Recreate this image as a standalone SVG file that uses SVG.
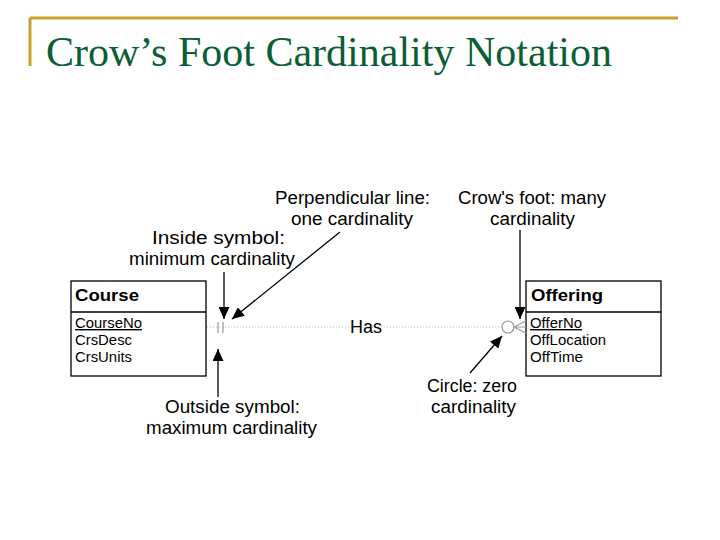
<svg xmlns="http://www.w3.org/2000/svg" width="720" height="540" viewBox="0 0 720 540">
<style>
.title{font-family:"Liberation Serif","Times New Roman",serif;font-size:42px;fill:#0B5E34}
.ann{font-family:"Liberation Sans",Arial,sans-serif;font-size:17.5px;fill:#000}
.ent{font-family:"Liberation Sans",Arial,sans-serif;font-size:16px;font-weight:bold;fill:#000}
.att{font-family:"Liberation Sans",Arial,sans-serif;font-size:14px;fill:#000}
.box{fill:#fff;stroke:#000;stroke-width:1.3}
.arrow{stroke:#000;stroke-width:1.3;fill:none;marker-end:url(#ah)}
.sym{stroke:#999;stroke-width:1.2;fill:none}
</style>
<defs>
<marker id="ah" markerUnits="userSpaceOnUse" markerWidth="13" markerHeight="11" refX="12" refY="5.5" orient="auto">
<path d="M0,0 L12,5.5 L0,11 z" fill="#000"/>
</marker>
</defs>
<rect width="720" height="540" fill="#fff"/>
<g id="frame">
<path d="M30,18 H678 M30,18 V66" stroke="#C8A030" stroke-width="3" fill="none"/>
<text class="title" x="46" y="66" textLength="566" lengthAdjust="spacingAndGlyphs">Crow’s Foot Cardinality Notation</text>
</g>
<g id="course">
<rect class="box" x="71" y="281" width="135" height="95"/>
<line x1="71" y1="312" x2="206" y2="312" stroke="#000" stroke-width="1.3"/>
<text class="ent" x="75" y="301" textLength="64" lengthAdjust="spacingAndGlyphs">Course</text>
<text class="att" x="75" y="328" textLength="67" lengthAdjust="spacingAndGlyphs" text-decoration="underline">CourseNo</text>
<text class="att" x="75" y="345" textLength="57" lengthAdjust="spacingAndGlyphs">CrsDesc</text>
<text class="att" x="75" y="362" textLength="57" lengthAdjust="spacingAndGlyphs">CrsUnits</text>
</g>
<g id="offering">
<rect class="box" x="526" y="281" width="135" height="95"/>
<line x1="526" y1="312" x2="661" y2="312" stroke="#000" stroke-width="1.3"/>
<text class="ent" x="531" y="301" textLength="72" lengthAdjust="spacingAndGlyphs">Offering</text>
<text class="att" x="530" y="328" textLength="52" lengthAdjust="spacingAndGlyphs" text-decoration="underline">OfferNo</text>
<text class="att" x="530" y="345" textLength="76" lengthAdjust="spacingAndGlyphs">OffLocation</text>
<text class="att" x="530" y="362" textLength="53" lengthAdjust="spacingAndGlyphs">OffTime</text>
</g>
<g id="relationship">
<line x1="207" y1="327" x2="502" y2="327" stroke="#bbb" stroke-width="1" stroke-dasharray="1,2"/>
<line class="sym" x1="218" y1="322" x2="218" y2="333"/>
<line class="sym" x1="223" y1="322" x2="223" y2="333"/>
<circle cx="508" cy="327" r="6" fill="#fff" stroke="#999" stroke-width="1.2"/>
<path class="sym" d="M514,327 L526,321 M514,327 L526,327 M514,327 L526,333"/>
<text class="ann" x="350" y="333" textLength="32" lengthAdjust="spacingAndGlyphs">Has</text>
</g>
<g id="annotations">
<text class="ann" x="275" y="204" textLength="155" lengthAdjust="spacingAndGlyphs">Perpendicular line:</text>
<text class="ann" x="291" y="225" textLength="122" lengthAdjust="spacingAndGlyphs">one cardinality</text>
<text class="ann" x="458" y="204" textLength="148" lengthAdjust="spacingAndGlyphs">Crow's foot: many</text>
<text class="ann" x="490" y="225" textLength="85" lengthAdjust="spacingAndGlyphs">cardinality</text>
<text class="ann" x="152" y="244" textLength="133" lengthAdjust="spacingAndGlyphs">Inside symbol:</text>
<text class="ann" x="129" y="265" textLength="166" lengthAdjust="spacingAndGlyphs">minimum cardinality</text>
<text class="ann" x="165" y="413" textLength="135" lengthAdjust="spacingAndGlyphs">Outside symbol:</text>
<text class="ann" x="146" y="434" textLength="171" lengthAdjust="spacingAndGlyphs">maximum cardinality</text>
<text class="ann" x="427" y="392" textLength="90" lengthAdjust="spacingAndGlyphs">Circle: zero</text>
<text class="ann" x="431" y="413" textLength="85" lengthAdjust="spacingAndGlyphs">cardinality</text>
</g>
<g id="connectors">
<line class="arrow" x1="224" y1="272" x2="224" y2="319"/>
<line class="arrow" x1="340" y1="232" x2="232" y2="319"/>
<line class="arrow" x1="218" y1="397" x2="218" y2="349"/>
<line class="arrow" x1="520" y1="230" x2="520" y2="319"/>
<line class="arrow" x1="470" y1="373" x2="502" y2="336"/>
</g>
</svg>
